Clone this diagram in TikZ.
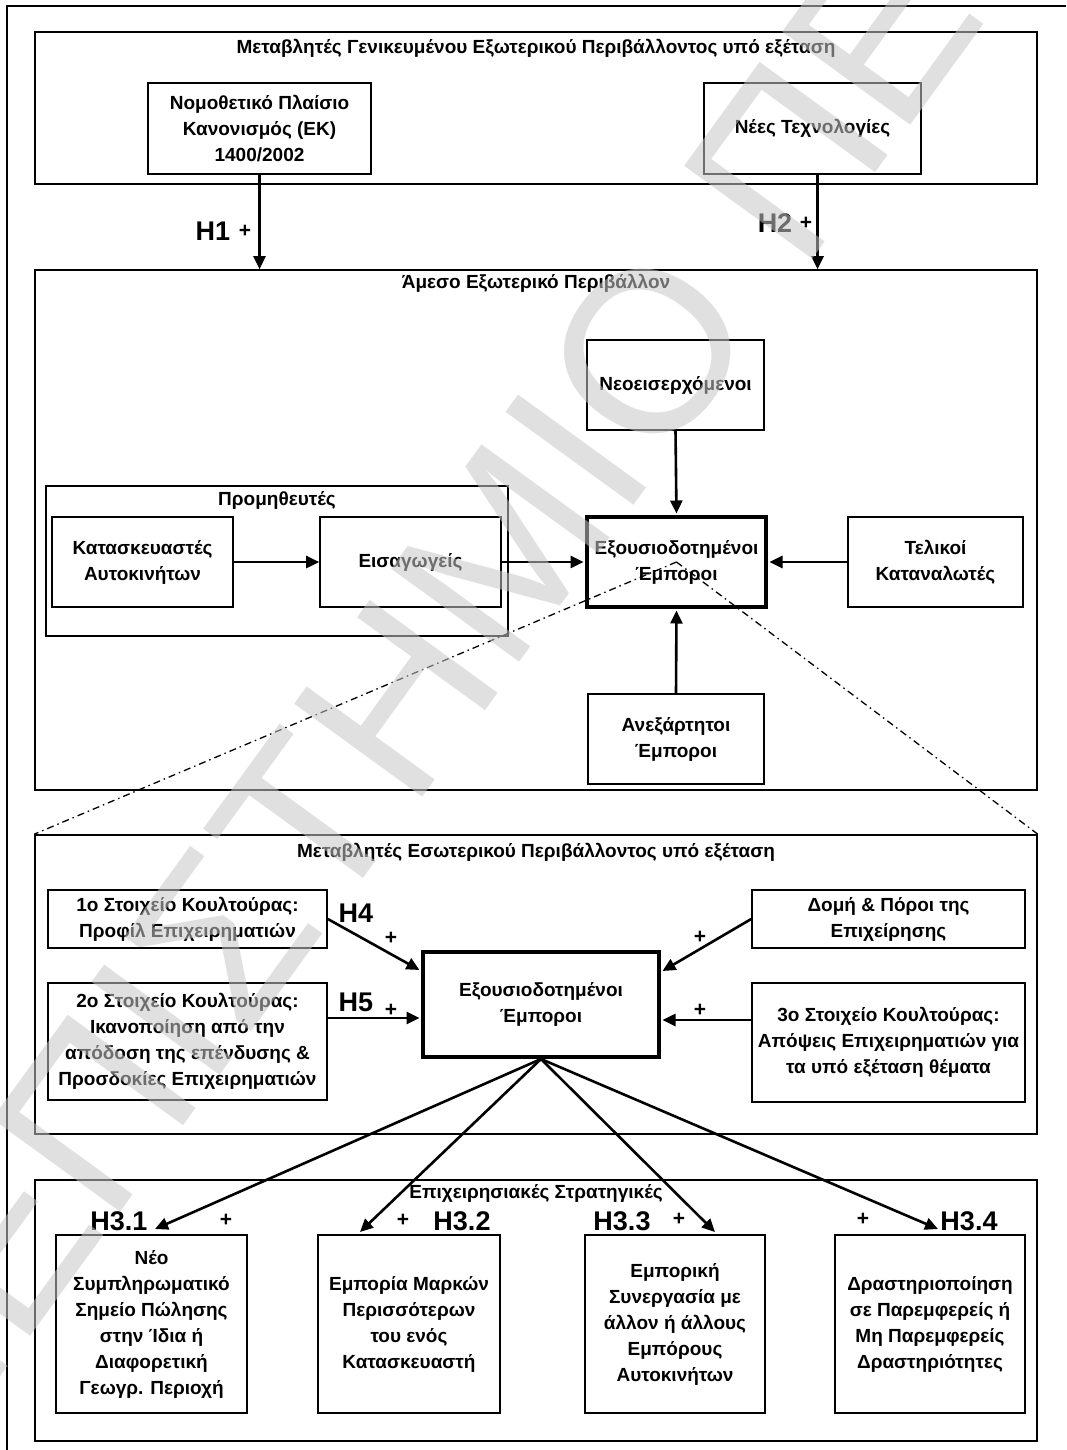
\documentclass[tikz,border=0pt]{standalone}
\usepackage{fontspec}
\setmainfont{Liberation Sans}
\newfontfamily\wmfont{Liberation Sans}
\usetikzlibrary{arrows.meta,calc}
\begin{document}
\begin{tikzpicture}[x=1pt,y=-1pt,
  box/.style={draw, line width=1.6pt, inner sep=0pt, align=center, font=\bfseries\fontsize{19}{26}\selectfont},
  frame/.style={draw, line width=1.6pt, inner sep=0pt},
  keybox/.style={box, line width=4pt},
  ttl/.style={font=\bfseries\fontsize{19}{26}\selectfont, inner sep=0pt, anchor=base},
  arr/.style={line width=2.6pt, -{Triangle[length=13pt,width=12pt]}},
  hyp/.style={font=\bfseries\fontsize{27}{27}\selectfont, inner sep=0pt},
  pls/.style={font=\bfseries\fontsize{21}{21}\selectfont, inner sep=0pt},
  zoomline/.style={line width=1.3pt, dash pattern=on 7pt off 4pt on 1.5pt off 4pt},
  wm/.style={font=\wmfont\fontsize{230}{230}\selectfont, text=black!22, text opacity=0.55, inner sep=0pt, rotate=54}
]
\useasboundingbox (0,0) rectangle (1066,1450);
\fill[white] (0,0) rectangle (1066,1450);
\draw[line width=1.6pt] (7,1450) -- (7,6) -- (1066,6);

% ---------- general environment ----------
\node[frame, minimum width=1002pt, minimum height=152pt] (gen) at (536,108) {};
\node[ttl] (gent) at ($(gen.north)+(0,22)$) {Μεταβλητές Γενικευμένου Εξωτερικού Περιβάλλοντος υπό εξέταση};
\node[box, minimum width=223pt, minimum height=91pt] (law) at (259.5,128.5) {Νομοθετικό Πλαίσιο\\Κανονισμός (ΕΚ)\\1400/2002};
\node[box, minimum width=217pt, minimum height=91pt] (tech) at (812.5,128.5) {Νέες Τεχνολογίες};

% ---------- immediate environment ----------
\node[frame, minimum width=1002pt, minimum height=520pt] (imm) at (536,530) {};
\node[ttl] (immt) at ($(imm.north)+(0,19)$) {Άμεσο Εξωτερικό Περιβάλλον};
\node[box, minimum width=177pt, minimum height=90pt] (newc) at (675.5,385) {Νεοεισερχόμενοι};
\node[keybox, minimum width=179pt, minimum height=90pt] (auth) at (676.5,562) {Εξουσιοδοτημένοι\\Έμποροι};
\node[box, minimum width=175pt, minimum height=90pt] (cons) at (935.5,562) {Τελικοί\\Καταναλωτές};
\node[frame, minimum width=462pt, minimum height=150pt] (supp) at (277,561) {};
\node[ttl] (suppt) at ($(supp.north)+(0,20)$) {Προμηθευτές};
\node[box, minimum width=181pt, minimum height=90pt] (manu) at (142.5,562) {Κατασκευαστές\\Αυτοκινήτων};
\node[box, minimum width=181pt, minimum height=90pt] (impo) at (410.5,562) {Εισαγωγείς};
\node[box, minimum width=176pt, minimum height=90pt] (indep) at (676,739) {Ανεξάρτητοι\\Έμποροι};

% ---------- internal environment ----------
\node[frame, minimum width=1002pt, minimum height=299pt] (ints) at (536,984.5) {};
\node[ttl] (intst) at ($(ints.north)+(0,23)$) {Μεταβλητές Εσωτερικού Περιβάλλοντος υπό εξέταση};
\node[box, minimum width=279pt, minimum height=58pt] (cul1) at (187.5,919) {1ο Στοιχείο Κουλτούρας:\\Προφίλ Επιχειρηματιών};
\node[box, minimum width=279pt, minimum height=117pt] (cul2) at (187.5,1041.5) {2ο Στοιχείο Κουλτούρας:\\Ικανοποίηση από την\\απόδοση της επένδυσης \&\\Προσδοκίες Επιχειρηματιών};
\node[keybox, minimum width=236pt, minimum height=105pt] (auth2) at (541,1004.5) {Εξουσιοδοτημένοι\\Έμποροι};
\node[box, minimum width=273pt, minimum height=58pt] (struct) at (888.5,919) {Δομή \& Πόροι της\\Επιχείρησης};
\node[box, minimum width=273pt, minimum height=119pt] (cul3) at (888.5,1042.5) {3ο Στοιχείο Κουλτούρας:\\Απόψεις Επιχειρηματιών για\\τα υπό εξέταση θέματα};

% ---------- strategies ----------
\node[frame, minimum width=1002pt, minimum height=261pt] (strat) at (536,1310.5) {};
\node[ttl] (stratt) at ($(strat.north)+(0,19)$) {Επιχειρησιακές Στρατηγικές};
\node[box, minimum width=191pt, minimum height=178pt] (s1) at (151.5,1324) {Νέο\\Συμπληρωματικό\\Σημείο Πώλησης\\στην Ίδια ή\\Διαφορετική\\Γεωγρ. Περιοχή};
\node[box, minimum width=182pt, minimum height=178pt] (s2) at (409,1324) {Εμπορία Μαρκών\\Περισσότερων\\του ενός\\Κατασκευαστή};
\node[box, minimum width=180pt, minimum height=178pt] (s3) at (675,1324) {Εμπορική\\Συνεργασία με\\άλλον ή άλλους\\Εμπόρους\\Αυτοκινήτων};
\node[box, minimum width=190pt, minimum height=178pt] (s4) at (930,1324) {Δραστηριοποίηση\\σε Παρεμφερείς ή\\Μη Παρεμφερείς\\Δραστηριότητες};

% ---------- connectors ----------
\draw[arr] (law.south) -- (law.south |- imm.north);
\draw[arr] ([xshift=5pt]tech.south) -- ([xshift=5pt]tech.south |- imm.north);
\node[hyp] (h1) at (213,231) {H1};
\node[pls] (p1) at (245,231) {+};
\node[hyp] (h2) at (775,223) {H2};
\node[pls] (p2) at (806,223) {+};

\draw[arr] (manu.east) -- (impo.west);
\draw[arr, shorten >=1.5pt] (impo.east) -- (auth.west);
\draw[arr, shorten >=1.5pt] (cons.west) -- (auth.east);
\draw[arr, shorten >=1.5pt] (newc.south) -- (auth.north);
\draw[arr, shorten >=1.5pt] (indep.north) -- (auth.south);

\draw[zoomline] (auth.center) -- (ints.north west);
\draw[zoomline] (auth.center) -- (ints.north east);

\coordinate (a4) at ($(auth2.north west)+(-1.5,20)$);
\coordinate (a5) at ($(auth2.north west)+(-1.5,68)$);
\coordinate (a6) at ($(auth2.north east)+(1.5,21)$);
\coordinate (a7) at ($(auth2.north east)+(1.5,70)$);
\draw[arr] (cul1.east) -- (a4);
\draw[arr] (a5 -| cul2.east) -- (a5);
\draw[arr] (struct.west) -- (a6);
\draw[arr] (a7 -| cul3.west) -- (a7);
\node[hyp] (h4) at (356,913) {H4};
\node[pls] (p4) at (391,938) {+};
\node[hyp] (h5) at (356,1002) {H5};
\node[pls] (p5) at (391,1010) {+};
\node[pls] (p6) at (700,937) {+};
\node[pls] (p7) at (700,1010) {+};

\coordinate (t1) at (155,1229);
\coordinate (t2) at (360,1232);
\coordinate (t3) at (715,1232);
\coordinate (t4) at (938,1229);
\draw[arr] (auth2.south) -- (t1);
\draw[arr] (auth2.south) -- (t2);
\draw[arr] (auth2.south) -- (t3);
\draw[arr] (auth2.south) -- (t4);
\node[hyp] (h31) at (119,1221) {H3.1};
\node[pls] (p31) at (226,1220) {+};
\node[pls] (p32) at (403,1220) {+};
\node[hyp] (h32) at (462,1221) {H3.2};
\node[hyp] (h33) at (622,1221) {H3.3};
\node[pls] (p33) at (679,1219) {+};
\node[pls] (p34) at (863,1219) {+};
\node[hyp] (h34) at (969,1221) {H3.4};

% ---------- watermark ----------
\node[wm, anchor=base east] (wm1) at (659,471) {ΠΑΝΕΠΙΣΤΗΜΙ};
\node[wm, anchor=base west] (wm2) at (659,471) {Ο ΠΕΙΡΑΙΩΣ};
\end{tikzpicture}
\end{document}
